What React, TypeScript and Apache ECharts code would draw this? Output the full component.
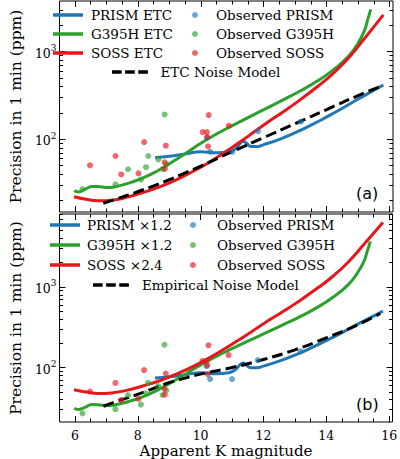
import React, { useEffect, useRef } from "react";
import * as echarts from "echarts";

// ---- Data ----
const prismEtcMag = [8.55, 9.0, 9.5, 10.0, 10.5, 10.9, 11.1, 11.25, 11.35, 11.45, 11.6, 11.8, 12.0, 12.5, 13.0, 13.5, 14.0, 14.5, 15.0, 15.5, 15.8];
const prismEtcPpm = [62, 64, 68, 72, 70, 72, 78, 90, 95, 90, 83, 83, 87, 100, 119, 145, 180, 226, 288, 363, 417];

const g395hEtcMag = [5.98, 6.1, 6.3, 6.55, 6.8, 7.1, 7.4, 7.8, 8.2, 8.6, 9.0, 9.5, 10.0, 10.5, 11.0, 11.5, 12.0, 12.6, 13.2, 13.7, 14.2, 14.7, 15.0, 15.2, 15.3, 15.4];
const g395hEtcPpm = [26, 25.1, 26.6, 29, 28.7, 28.2, 29.4, 32.4, 36.7, 43.2, 52.5, 68.4, 90, 115, 143, 177, 218, 280, 363, 462, 617, 891, 1260, 1740, 2290, 3050];

const sossEtcMag = [5.97, 6.35, 6.75, 7.16, 7.67, 8.18, 8.69, 9.3, 10.0, 10.5, 11.0, 11.5, 12.0, 12.6, 13.0, 13.7, 14.2, 14.7, 15.2, 15.8];
const sossEtcPpm = [22.1, 20.7, 19.9, 20.2, 21.9, 24.8, 28.6, 35.5, 48, 61.7, 81.3, 108, 146, 204, 257, 398, 562, 851, 1413, 2630];

const etcNoiseMag = [6.9, 7.4, 7.9, 8.4, 8.9, 9.4, 10.0, 11.0, 12.0, 13.0, 14.0, 15.0, 15.76];
const etcNoisePpm = [18.6, 21.3, 24.5, 28.5, 33.5, 39.8, 49.5, 72.4, 104.7, 151.4, 218.8, 316, 407];

const empNoiseMag = [6.91, 7.36, 7.87, 8.38, 8.89, 9.5, 10.0, 11.0, 12.0, 13.0, 14.0, 15.0, 15.71];
const empNoisePpm = [33, 38.5, 44.7, 52.9, 63, 74, 83, 100, 126, 166, 234, 339, 468];

const obsPrismMag = [10.19, 10.3, 11.0, 11.82, 13.18];
const obsPrismPpm = [104, 72, 72, 124, 159];

const obsG395hMag = [6.24, 7.29, 7.69, 8.1, 8.26, 8.33, 8.65, 8.85, 8.79, 8.91];
const obsG395hPpm = [27, 30.5, 45.5, 34.7, 48, 64.5, 59, 192, 45.7, 52];

const obsSossMag = [6.48, 7.29, 7.47, 8.02, 8.2, 8.89, 8.85, 8.86, 10.06, 10.19, 10.25, 10.21, 10.23, 10.89];
const obsSossPpm = [50.5, 64.5, 39.7, 40.8, 93, 84.5, 54.5, 46, 121, 121, 189, 107, 83, 143];

// scale factors shown in the lower panel's legend
const PRISM_SCALE = 1.2;
const G395H_SCALE = 1.2;
const SOSS_SCALE = 2.4;

// ---- Axis ticks ----
const xMajorTicks = [6, 8, 10, 12, 14, 16];
const xMinorTicks = [6.5, 7, 7.5, 8.5, 9, 9.5, 10.5, 11, 11.5, 12.5, 13, 13.5, 14.5, 15, 15.5];
const yMajorPpm = [10, 100, 1000, 10000];
const yMinorPpm = [20, 30, 40, 50, 60, 70, 80, 90, 200, 300, 400, 500, 600, 700, 800, 900, 2000, 3000, 4000, 5000, 6000, 7000, 8000, 9000];

const X_MIN = 5.511;
const X_MAX = 16.107;
const TOP_Y = [1.17, 3.579];
const BOT_Y = [1.325, 3.905];

const SERIF = "DejaVu Serif";
const SANS = "DejaVu Sans";
const BLUE = "#1f77b4";
const GREEN = "#2ca02c";
const RED = "#e8161b";

const DASH_ICON = "path://M0,0h11v4h-11zM15,0h11v4h-11zM30,0h11v4h-11z";

const lg = (v: number) => Math.log10(v);
const pts = (mags: number[], ppms: number[], k = 1) => mags.map((m, i) => [m, lg(ppms[i] * k)]);

function axesFor(gi: number, yr: number[], bottomPanel: boolean) {
  const xBase: any = {
    type: "value", gridIndex: gi, min: X_MIN, max: X_MAX,
    axisLine: { show: false }, splitLine: { show: false },
  };
  const tick = (vals: number[], len: number) => ({
    show: true, inside: true, length: len, customValues: vals,
    lineStyle: { color: "#000", width: 1 },
  });
  const xs = [
    {
      ...xBase, position: "bottom", axisTick: tick(xMajorTicks, 6),
      axisLabel: bottomPanel
        ? { show: true, customValues: xMajorTicks, margin: 7, fontFamily: SERIF, fontSize: 12.5, lineHeight: 12, color: "#000" }
        : { show: false },
      name: bottomPanel ? "Apparent K magnitude" : "",
      nameLocation: "middle", nameGap: 21,
      nameTextStyle: { fontFamily: SERIF, fontSize: 15, lineHeight: 15, color: "#000" },
    },
    { ...xBase, position: "bottom", axisTick: tick(xMinorTicks, 3.5), axisLabel: { show: false } },
    { ...xBase, position: "top", axisTick: tick(xMajorTicks, 6), axisLabel: { show: false } },
    { ...xBase, position: "top", axisTick: tick(xMinorTicks, 3.5), axisLabel: { show: false } },
  ];
  const yBase: any = {
    type: "value", gridIndex: gi, min: yr[0], max: yr[1],
    axisLine: { show: false }, splitLine: { show: false },
  };
  const majors = yMajorPpm.map(lg);
  const minors = yMinorPpm.map(lg);
  const ys = [
    {
      ...yBase, position: "left", axisTick: tick(majors, 6),
      axisLabel: {
        show: true, customValues: majors, margin: 3, color: "#000",
        fontFamily: SERIF, fontSize: 12.5,
        formatter: (v: number) => `{b|10}{s|${Math.round(v)}}`,
        rich: {
          b: { fontFamily: SERIF, fontSize: 12.5, color: "#000", lineHeight: 16, verticalAlign: "bottom" },
          s: { fontFamily: SERIF, fontSize: 9, color: "#000", lineHeight: 16, verticalAlign: "top" },
        },
      },
      name: "Precision in 1 min (ppm)", nameLocation: "middle", nameGap: 28, nameRotate: 90,
      nameTextStyle: { fontFamily: SERIF, fontSize: 15.5, color: "#000" },
    },
    { ...yBase, position: "left", axisTick: tick(minors, 3.5), axisLabel: { show: false } },
    { ...yBase, position: "right", axisTick: tick(majors, 6), axisLabel: { show: false } },
    { ...yBase, position: "right", axisTick: tick(minors, 3.5), axisLabel: { show: false } },
  ];
  return { xs, ys };
}

function lineSeries(name: string, data: number[][], color: string, ai: number, dashed = false) {
  return {
    type: "line", name, data, xAxisIndex: ai, yAxisIndex: ai,
    symbol: "none", smooth: 0.5,
    lineStyle: dashed ? { color: "#000", width: 3, type: [11, 5] } : { color, width: 3 },
    itemStyle: { color: dashed ? "#000" : color },
    z: dashed ? 3 : 2,
  };
}

function scatterSeries(name: string, data: number[][], color: string, ai: number) {
  return {
    type: "scatter", name, data, xAxisIndex: ai, yAxisIndex: ai,
    symbol: "circle", symbolSize: 6,
    itemStyle: { color, opacity: 0.65 },
    z: 4,
  };
}

const lineItem = (name: string) => ({ name, icon: "rect" });
const dotItem = (name: string) => ({ name, icon: "circle" });

export default function App() {
  const ref = useRef<HTMLDivElement>(null);
  useEffect(() => {
    if (!ref.current) return;
    const chart = echarts.init(ref.current, undefined, { renderer: "svg" });
    const top = axesFor(0, TOP_Y, false);
    const bot = axesFor(1, BOT_Y, true);
    const legText = { fontFamily: SERIF, fontSize: 13.5, color: "#000", lineHeight: 14 };
    const option: any = {
      animation: false,
      backgroundColor: "#fff",
      grid: [
        { left: 46, right: 7, top: 1, height: 211, show: true, borderColor: "#000", borderWidth: 1, backgroundColor: "transparent" },
        { left: 46, right: 7, top: 214, height: 209, show: true, borderColor: "#000", borderWidth: 1, backgroundColor: "transparent" },
      ],
      xAxis: [...top.xs, ...bot.xs],
      yAxis: [...top.ys, ...bot.ys],
      title: [
        { text: "(a)", left: 356, top: 185, padding: 0, textStyle: { fontFamily: SANS, fontSize: 16, fontWeight: "normal", color: "#000" } },
        { text: "(b)", left: 356, top: 396, padding: 0, textStyle: { fontFamily: SANS, fontSize: 16, fontWeight: "normal", color: "#000" } },
      ],
      legend: [
        {
          data: ["PRISM ETC", "G395H ETC", "SOSS ETC"].map(lineItem), orient: "vertical", left: 53, top: 8, padding: 0,
          itemWidth: 30, itemHeight: 3.5, itemGap: 5, textStyle: { ...legText, padding: [0, 0, 0, 3] },
        },
        {
          data: ["Observed PRISM", "Observed G395H", "Observed SOSS"].map(dotItem), orient: "vertical", left: 192, top: 8, padding: 0,
          itemWidth: 30, itemHeight: 6, itemGap: 5, textStyle: { ...legText, padding: [0, 0, 0, 1] },
        },
        {
          data: [{ name: "ETC Noise Model", icon: DASH_ICON }], left: 112, top: 65, padding: 0,
          itemWidth: 41, itemHeight: 3.5, textStyle: { ...legText, padding: [0, 0, 0, 5] },
        },
        {
          data: ["PRISM ×1.2", "G395H ×1.2", "SOSS ×2.4"].map(lineItem), orient: "vertical", left: 50, top: 218, padding: 0,
          itemWidth: 30, itemHeight: 3.5, itemGap: 6, textStyle: { ...legText, padding: [0, 0, 0, 2] },
        },
        {
          data: ["Observed PRISM", "Observed G395H", "Observed SOSS"].map(dotItem), orient: "vertical", left: 190, top: 218, padding: 0,
          itemWidth: 30, itemHeight: 6, itemGap: 6, textStyle: { ...legText, padding: [0, 0, 0, 4] },
        },
        {
          data: [{ name: "Empirical Noise Model", icon: DASH_ICON }], left: 93, top: 278, padding: 0,
          itemWidth: 40, itemHeight: 3.5, textStyle: { ...legText, padding: [0, 0, 0, 6] },
        },
      ],
      series: [
        lineSeries("PRISM ETC", pts(prismEtcMag, prismEtcPpm), BLUE, 0),
        lineSeries("G395H ETC", pts(g395hEtcMag, g395hEtcPpm), GREEN, 0),
        lineSeries("SOSS ETC", pts(sossEtcMag, sossEtcPpm), RED, 0),
        lineSeries("ETC Noise Model", pts(etcNoiseMag, etcNoisePpm), "#000", 0, true),
        scatterSeries("Observed PRISM", pts(obsPrismMag, obsPrismPpm), BLUE, 0),
        scatterSeries("Observed G395H", pts(obsG395hMag, obsG395hPpm), GREEN, 0),
        scatterSeries("Observed SOSS", pts(obsSossMag, obsSossPpm), RED, 0),

        lineSeries("PRISM ×1.2", pts(prismEtcMag, prismEtcPpm, PRISM_SCALE), BLUE, 4),
        lineSeries("G395H ×1.2", pts(g395hEtcMag, g395hEtcPpm, G395H_SCALE), GREEN, 4),
        lineSeries("SOSS ×2.4", pts(sossEtcMag, sossEtcPpm, SOSS_SCALE), RED, 4),
        lineSeries("Empirical Noise Model", pts(empNoiseMag, empNoisePpm), "#000", 4, true),
        scatterSeries("Observed PRISM", pts(obsPrismMag, obsPrismPpm), BLUE, 4),
        scatterSeries("Observed G395H", pts(obsG395hMag, obsG395hPpm), GREEN, 4),
        scatterSeries("Observed SOSS", pts(obsSossMag, obsSossPpm), RED, 4),
      ],
    };
    chart.setOption(option);
    return () => chart.dispose();
  }, []);
  return (
    <div
      ref={ref}
      style={{ position: "fixed", left: 0, top: 0, width: 400, height: 459, background: "#fff" }}
    />
  );
}
